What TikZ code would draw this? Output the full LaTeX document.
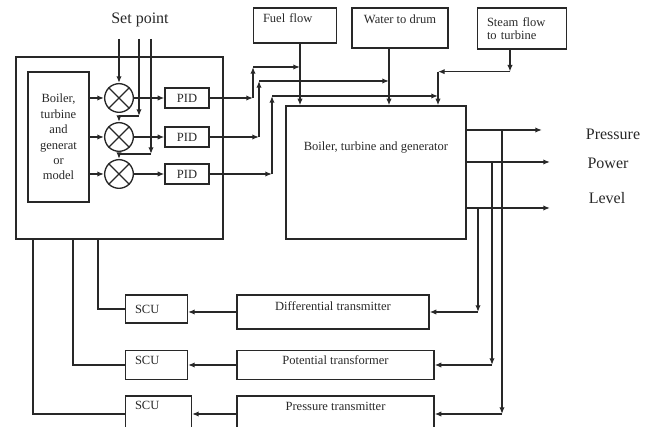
\documentclass[tikz,border=0pt]{standalone}
\usepackage{fontspec}
\setmainfont{Liberation Serif}
\usetikzlibrary{arrows.meta, calc}
\definecolor{linegray}{RGB}{40,40,40}

\begin{document}
\begin{tikzpicture}[x=0.75pt, y=-0.75pt, color=linegray, line width=1pt,
  box/.style={draw, inner sep=0pt, font=\fontsize{9.4}{11.6}\selectfont},
  lbox/.style={box, align=left, inner xsep=7pt, text width=#1},
  sum/.style={draw, circle, inner sep=0pt, minimum size=21.5pt},
  arr/.style={-{Latex[length=5pt, width=4pt]}},
  big/.style={font=\fontsize{12}{14}\selectfont}]
  \clip (0,0) rectangle (654,427);

  % controller and model
  \node[box, minimum width=155.25pt, minimum height=136.5pt] (ctrl) at (119.5,148) {};
  \node[box, minimum width=45.75pt, minimum height=97.5pt, align=center] (model) at (58.5,137)
    {Boiler,\\turbine\\and\\generat\\or\\model};
  \node[big] (setp) at (140,20) {Set point};

  % summing points and PID
  \foreach \i/\y in {1/98, 2/137, 3/174} {
    \node[sum] (s\i) at (119,\y) {};
    \draw (s\i.north west) -- (s\i.south east) (s\i.north east) -- (s\i.south west);
    \node[box, minimum width=33pt, minimum height=15pt] (p\i) at (187,\y) {PID};
    \draw[arr] (s\i.west -| model.east) -- (s\i.west);
    \draw[arr] (s\i.east) -- (p\i.west);
  }

  % set point lines
  \coordinate (sp1) at (119,39);
  \coordinate (sp2) at (139,39);
  \coordinate (sp3) at (151,39);
  \coordinate (k2) at (139,116);
  \coordinate (k3) at (151,154);
  \draw[arr] (sp1) -- (s1.north);
  \draw[arr] (sp2) -- (k2);
  \draw[arr] (k2) -| (s2.north);
  \draw[arr] (sp3) -- (k3);
  \draw[arr] (k3) -| (s3.north);

  % plant and inputs
  \node[box, minimum width=135pt, minimum height=99.75pt, text height=6.5pt, text depth=40pt] (main) at (376,172.5)
    {Boiler, turbine and generator};
  \node[lbox=48pt, minimum height=26.25pt, text height=6.5pt, text depth=10.25pt] (fuel) at (295,25.5) {Fuel flow};
  \node[box, minimum width=72pt, minimum height=30pt, text height=6.5pt, text depth=12.5pt] (water) at (400,28) {Water to drum};
  \node[lbox=52.5pt, minimum height=30.75pt, font=\fontsize{9.4}{9.75}\selectfont] (steam) at (522,28.5) {Steam flow\\to turbine};

  \coordinate (fl) at ($(fuel.south)+(5,0)$);
  \coordinate (wl) at ($(water.south)+(-11,0)$);
  \coordinate (sl) at ($(steam.south)+(-12,0)$);
  \coordinate (sk) at ($(sl)+(0,22)$);
  \coordinate (sm) at (sk -| 438,0);
  \draw[arr] (fl) -- (fl |- main.north);
  \draw[arr] (wl) -- (wl |- main.north);
  \draw[arr] (sl) -- (sk);
  \draw[arr] (sk) -- (sm);
  \draw[arr] (sm) -- (sm |- main.north);

  % PID outputs
  \coordinate (b1) at (253,98);  \coordinate (t1) at (253,67);
  \coordinate (b2) at (259,137); \coordinate (t2) at (259,81);
  \coordinate (b3) at (272,174); \coordinate (t3) at (272,96);
  \draw[arr] (p1.east) -- (b1);
  \draw[arr] (b1) -- (t1);
  \draw[arr] (t1) -- (t1 -| fl);
  \draw[arr] (p2.east) -- (b2);
  \draw[arr] (b2) -- (t2);
  \draw[arr] (t2) -- (t2 -| wl);
  \draw[arr] (p3.east) -- (b3);
  \draw[arr] (b3) -- (t3);
  \draw[arr] (t3) -- (t3 -| sm);

  % outputs
  \coordinate (o1) at (main.east |- 0,130);
  \coordinate (o2) at (main.east |- 0,162);
  \coordinate (o3) at (main.east |- 0,208);
  \coordinate (e1) at (542,130);
  \coordinate (e2) at (550,162);
  \coordinate (e3) at (550,208);
  \draw[arr] (o1) -- (e1);
  \draw[arr] (o2) -- (e2);
  \draw[arr] (o3) -- (e3);
  \node[big] (lpres) at (613,134) {Pressure};
  \node[big] (lpow) at (608,163) {Power};
  \node[big] (llev) at (607,198) {Level};

  % measurement
  \node[box, minimum width=144pt, minimum height=25.5pt, text height=6.5pt, text depth=8pt] (dt) at (333,312) {Differential transmitter};
  \node[box, minimum width=147.75pt, minimum height=21.75pt, text height=6.5pt, text depth=7.25pt] (ptf) at (335.5,365) {Potential transformer};
  \node[box, minimum width=147.75pt, minimum height=27pt, text height=6.5pt, text depth=11pt] (prt) at (335.5,414) {Pressure transmitter};
  \node[lbox=32.25pt, minimum height=21pt] (scu1) at (156.5,309) {SCU};
  \node[lbox=32.25pt, minimum height=21.75pt, text height=6.5pt, text depth=7.25pt] (scu2) at (156.5,365) {SCU};
  \node[lbox=35.25pt, minimum height=27pt, text height=6.5pt, text depth=12.5pt] (scu3) at (158.5,414) {SCU};

  \coordinate (d1) at (502,414);
  \coordinate (d2) at (492,365);
  \coordinate (d3) at (478,312);
  \draw[arr] (o1 -| d1) -- (d1);
  \draw[arr] (d1) -- (prt.east);
  \draw[arr] (o2 -| d2) -- (d2);
  \draw[arr] (d2) -- (ptf.east);
  \draw[arr] (o3 -| d3) -- (d3);
  \draw[arr] (d3) -- (dt.east);
  \draw[arr] (dt.west) -- (dt.west -| scu1.east);
  \draw[arr] (ptf.west) -- (scu2.east);
  \draw[arr] (prt.west) -- (scu3.east);

  % feedback to controller
  \coordinate (l1) at (ctrl.south -| 98,0);
  \coordinate (l2) at (ctrl.south -| 73,0);
  \coordinate (l3) at (ctrl.south -| 33,0);
  \draw (l1) |- (scu1.west);
  \draw (l2) |- (scu2.west);
  \draw (l3) |- (scu3.west);
\end{tikzpicture}
\end{document}
